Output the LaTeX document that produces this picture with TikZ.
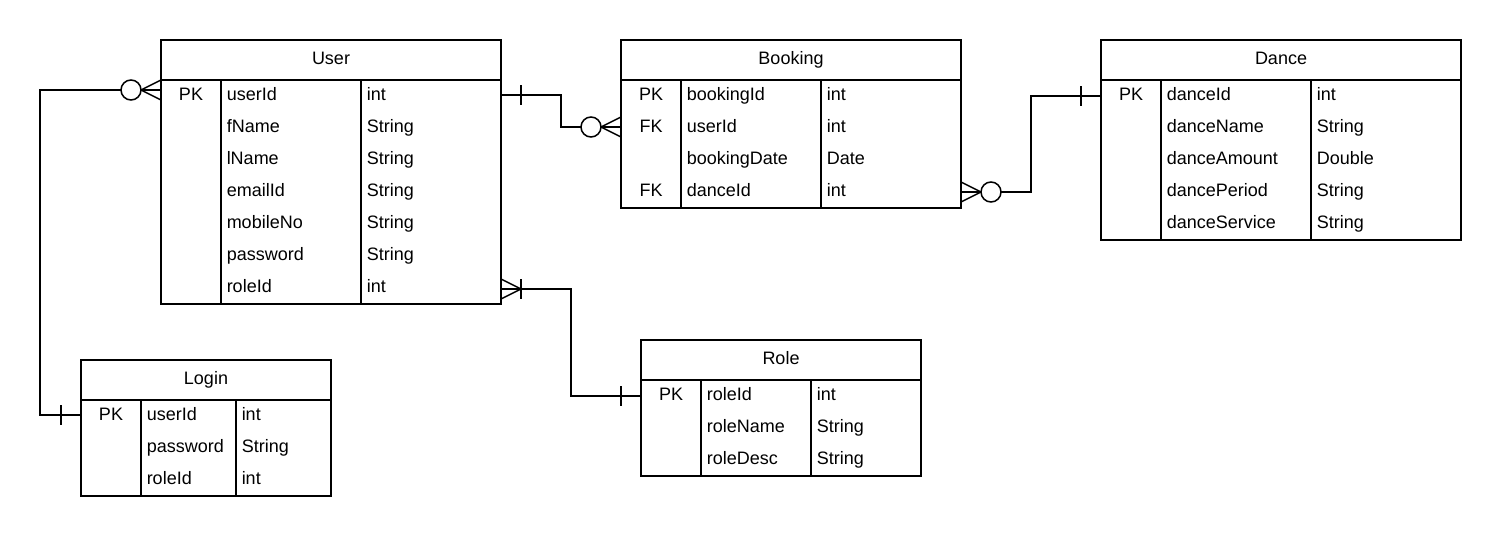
\documentclass[tikz,border=0pt]{standalone}
\usepackage{fontspec}
\setmainfont{Liberation Sans}
\usetikzlibrary{calc}
\begin{document}
\begin{tikzpicture}[x=1pt,y=-1pt,line width=1.5pt,
  box/.style={draw, anchor=north west, inner sep=0pt, outer sep=0pt},
  txt/.style={font=\fontsize{18}{21}\selectfont, inner sep=0pt},
  title/.style={txt, anchor=base},
  keycell/.style={txt, anchor=base},
  cell/.style={txt, anchor=base west},
  % relationship ends, drawn for an entity lying to the right of the point
  zmany/.pic={\draw (0,-10) -- (-20,0) -- (0,10);
              \draw[fill=white] (-30,0) circle[radius=10];},
  one/.pic={\draw (-20,-10) -- (-20,10);},
  omany/.pic={\draw (0,-10) -- (-20,0) -- (0,10);
              \draw (-20,-10) -- (-20,10);}]
\useasboundingbox (0,0) rectangle (1501,536);

% ---- User ----
\node[box, minimum width=340pt, minimum height=264pt] (user) at (161,40) {};
\draw (161,80) -- (501,80) (221,80) -- (221,304) (361,80) -- (361,304);
\node[title] (user-t) at (331,64) {User};
\node[keycell] (user-k0) at (191,100.5) {PK};
\foreach \a/\b [count=\i from 0] in {userId/int, fName/String, lName/String,
    emailId/String, mobileNo/String, password/String, roleId/int} {
  \node[cell] (user-a\i) at (226,100.5+32*\i) {\a};
  \node[cell] (user-b\i) at (366,100.5+32*\i) {\b};
}

% ---- Booking ----
\node[box, minimum width=340pt, minimum height=168pt] (booking) at (621,40) {};
\draw (621,80) -- (961,80) (681,80) -- (681,208) (821,80) -- (821,208);
\node[title] (booking-t) at (791,64) {Booking};
\node[keycell] (booking-k0) at (651,100.5) {PK};
\node[keycell] (booking-k1) at (651,132.5) {FK};
\node[keycell] (booking-k3) at (651,196.5) {FK};
\foreach \a/\b [count=\i from 0] in {bookingId/int, userId/int,
    bookingDate/Date, danceId/int} {
  \node[cell] (booking-a\i) at (686,100.5+32*\i) {\a};
  \node[cell] (booking-b\i) at (826,100.5+32*\i) {\b};
}

% ---- Dance ----
\node[box, minimum width=360pt, minimum height=200pt] (dance) at (1101,40) {};
\draw (1101,80) -- (1461,80) (1161,80) -- (1161,240) (1311,80) -- (1311,240);
\node[title] (dance-t) at (1281,64) {Dance};
\node[keycell] (dance-k0) at (1131,100.5) {PK};
\foreach \a/\b [count=\i from 0] in {danceId/int, danceName/String,
    danceAmount/Double, dancePeriod/String, danceService/String} {
  \node[cell] (dance-a\i) at (1166,100.5+32*\i) {\a};
  \node[cell] (dance-b\i) at (1316,100.5+32*\i) {\b};
}

% ---- Login ----
\node[box, minimum width=250pt, minimum height=136pt] (login) at (81,360) {};
\draw (81,400) -- (331,400) (141,400) -- (141,496) (236,400) -- (236,496);
\node[title] (login-t) at (206,384) {Login};
\node[keycell] (login-k0) at (111,420.5) {PK};
\foreach \a/\b [count=\i from 0] in {userId/int, password/String, roleId/int} {
  \node[cell] (login-a\i) at (146,420.5+32*\i) {\a};
  \node[cell] (login-b\i) at (241,420.5+32*\i) {\b};
}

% ---- Role ----
\node[box, minimum width=280pt, minimum height=136pt] (role) at (641,340) {};
\draw (641,380) -- (921,380) (701,380) -- (701,476) (811,380) -- (811,476);
\node[title] (role-t) at (781,364) {Role};
\node[keycell] (role-k0) at (671,400.5) {PK};
\foreach \a/\b [count=\i from 0] in {roleId/int, roleName/String, roleDesc/String} {
  \node[cell] (role-a\i) at (706,400.5+32*\i) {\a};
  \node[cell] (role-b\i) at (816,400.5+32*\i) {\b};
}

% ---- attachment points ----
\coordinate (uL)  at ($(user.north west)+(0,50)$);
\coordinate (lL)  at ($(login.north west)+(0,55)$);
\coordinate (uR)  at ($(user.north east)+(0,55)$);
\coordinate (bL)  at ($(booking.north west)+(0,87)$);
\coordinate (bR)  at ($(booking.north east)+(0,152)$);
\coordinate (dL)  at ($(dance.north west)+(0,56)$);
\coordinate (uR2) at ($(user.north east)+(0,249)$);
\coordinate (rL)  at ($(role.north west)+(0,56)$);

% ---- relationships ----
\draw (uL) -- ++(-121,0) |- (lL);
\draw (uR) -- ++(60,0) |- (bL);
\draw (bR) -- ++(70,0) |- (dL);
\draw (uR2) -- ++(70,0) |- (rL);

\pic at (uL) {zmany};
\pic at (lL) {one};
\pic[xscale=-1] at (uR) {one};
\pic at (bL) {zmany};
\pic[xscale=-1] at (bR) {zmany};
\pic at (dL) {one};
\pic[xscale=-1] at (uR2) {omany};
\pic at (rL) {one};
\end{tikzpicture}
\end{document}
